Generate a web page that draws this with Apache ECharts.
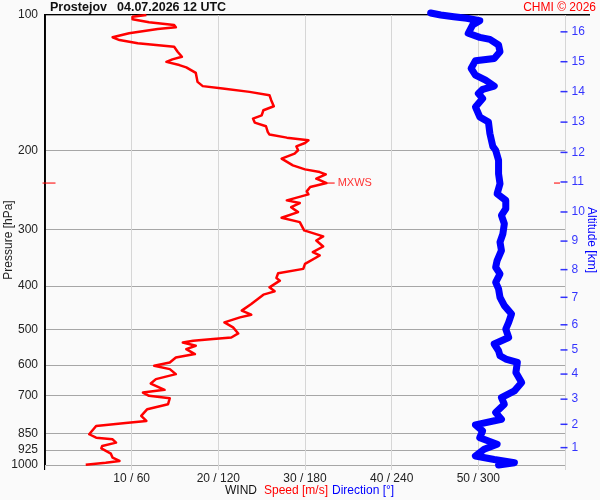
<!DOCTYPE html>
<html>
<head>
<meta charset="utf-8">
<script src="https://cdn.jsdelivr.net/npm/echarts@6/dist/echarts.min.js"></script>
<style>
    html, body { margin: 0; padding: 0; background: #fafafa; }
    #container { width: 600px; height: 500px; }
</style>
</head>
<body>
<div id="container"></div>
<script>
// tick labels
var pressureTicks = [100, 200, 300, 400, 500, 600, 700, 850, 925, 1000];
var speedTicks = [10, 20, 30, 40, 50];
var altKm = [1, 2, 3, 4, 5, 6, 7, 8, 9, 10, 11, 12, 13, 14, 15, 16];
var altPres = [915, 812, 714, 628, 555, 488, 424, 368, 318, 274, 235, 202, 173, 148, 127, 109];

// wind speed [m/s] by pressure [hPa]
var speedPres = [100, 100.9, 102.2, 103.8, 105.3, 106.5, 107.4, 109.8, 112.1, 113.7,
    115.6, 116.6, 117.6, 120.7, 123.8, 125.5, 127.1, 129.2, 130.7, 134.5,
    140.8, 143.9, 145.6, 148.2, 150.7, 154.6, 159.5, 162.8, 167.1, 169.9,
    173.4, 176.7, 181.9, 184.4, 187.3, 189.9, 192.5, 195.8, 199.8, 203.2,
    208.5, 215.8, 220.3, 223.4, 226, 231, 236.3, 241.2, 246.6, 250.4,
    258.2, 261.8, 267.3, 274.2, 282.2, 288.6, 301.1, 310.5, 317, 326.9,
    336.6, 342.3, 357.3, 366.6, 374.9, 383.9, 389.3, 402.9, 411.2, 418.3,
    438.7, 453.9, 463.4, 469.9, 482.1, 494.6, 510.1, 520.7, 524.8, 529.5,
    534.1, 543.3, 552.6, 566.9, 576.8, 591.8, 601.9, 612.2, 628.1, 644.4,
    659.1, 680.8, 690.2, 702, 710.3, 732.5, 751.5, 777.8, 798, 806.3,
    818.8, 854.4, 869.5, 876.7, 891.9, 907.2, 918.1, 943.7, 963.2, 979.7,
    988.3, 998.5];
var speedVals = [11.7, 10.1, 10.1, 12.0, 14.9, 15.1, 13.0, 9.7, 7.8, 8.6,
    10.7, 12.8, 14.9, 15.3, 15.8, 14.7, 14.0, 15.5, 16.3, 17.4,
    17.6, 18.2, 20.5, 23.6, 25.9, 26.1, 26.4, 25.2, 25.0, 24.0,
    24.2, 25.5, 25.7, 25.9, 27.9, 30.4, 30.0, 29.0, 29.2, 28.8,
    27.3, 28.6, 30.0, 31.7, 32.4, 31.3, 32.5, 30.6, 30.2, 30.4,
    27.9, 29.4, 28.4, 29.2, 27.3, 29.4, 29.9, 32.1, 31.3, 32.1,
    30.9, 31.7, 30.0, 29.8, 26.9, 26.7, 27.1, 25.9, 26.5, 25.2,
    23.8, 22.7, 23.8, 22.5, 20.7, 21.7, 22.3, 21.5, 19.4, 17.1,
    15.9, 17.4, 16.3, 17.3, 15.1, 14.4, 12.6, 14.4, 15.1, 12.8,
    12.2, 13.8, 11.3, 12.0, 14.4, 14.2, 11.8, 11.1, 11.7, 9.3,
    5.9, 5.1, 5.9, 7.8, 8.2, 6.6, 6.5, 7.6, 7.8, 8.6,
    7.0, 4.7];

// wind direction [deg] by pressure [hPa]
var dirPres = [99, 100, 100.9, 101.7, 103, 105.3, 109.8, 112.1, 113.3, 116.6,
    120.7, 124.9, 126.4, 131.4, 136, 139.6, 143.9, 146.3, 149.4, 153.3,
    160.1, 168.5, 172.9, 183.4, 195.8, 199.8, 210.3, 225.2, 237.1, 249.5,
    258.2, 269.5, 278.9, 291, 306.3, 319.8, 333.7, 351.3, 363.6, 376.1,
    392.7, 406.2, 424.1, 442.5, 461.7, 482.1, 498.7, 520.7, 538.5, 557.3,
    571.7, 581.6, 591.8, 622.9, 655.8, 684.3, 708.2, 732.5, 764.6, 791.2,
    814.6, 840.1, 869.5, 899.2, 922.6, 954.9, 972.1, 988.3, 1000];
var dirVals = [267, 274, 283, 292, 301, 296, 293, 301, 308, 314,
    315, 311, 298, 295, 298, 305, 311, 303, 300, 303,
    298, 301, 307, 308, 310, 312, 314, 314, 315, 313,
    319, 319, 316, 318, 317, 315, 316, 313, 312, 315,
    312, 314, 315, 318, 323, 321, 319, 321, 311, 314,
    315, 319, 327, 326, 330, 325, 316, 318, 312, 316,
    298, 303, 301, 313, 304, 298, 311, 325, 314];

var WindModule = (function (echarts) {
    var chart;
    var FONT = '"Liberation Sans", Arial, sans-serif';
    var RED = '#ff0000';
    var BLUE = '#0000ff';

    function pairs(xs, ys) {
        return ys.map(function (y, i) {
            return [xs[i], y];
        });
    }

    return {
        init: function () {
            chart = echarts.init(document.getElementById('container'));
            chart.setOption(this.buildOption());
        },
        buildOption: function () {
            // level of max wind
            var mx = 0;
            speedVals.forEach(function (v, i) {
                if (v > speedVals[mx]) mx = i;
            });
            var mxS = speedVals[mx], mxP = speedPres[mx];

            return {
                animation: false,
                backgroundColor: '#fafafa',
                textStyle: { fontFamily: FONT },
                grid: { left: 45, right: 35, top: 15, bottom: 35, containLabel: false, outerBoundsMode: 'none' },
                xAxis: [{
                    type: 'value',
                    min: 0,
                    max: 60,
                    interval: 10,
                    axisLine: { show: false },
                    axisTick: { show: true, length: 5, lineStyle: { color: '#d6d6d6' } },
                    axisLabel: {
                        color: '#222',
                        fontSize: 12,
                        margin: 8,
                        formatter: function (v) {
                            return speedTicks.indexOf(v) >= 0 ? v + ' / ' + v * 6 : '';
                        }
                    },
                    splitLine: { show: true, lineStyle: { color: '#d6d6d6', width: 1 } }
                }, {
                    // direction shares the width: 0..360 deg
                    type: 'value',
                    min: 0,
                    max: 360,
                    show: false
                }],
                yAxis: [{
                    type: 'log',
                    logBase: 10,
                    min: 100,
                    max: 1000,
                    inverse: true,
                    position: 'left',
                    axisLine: { show: true, onZero: false, lineStyle: { color: '#000', width: 1.5 } },
                    axisTick: { show: false, customValues: pressureTicks },
                    axisLabel: {
                        customValues: pressureTicks,
                        color: '#222',
                        fontSize: 12,
                        margin: 7,
                        formatter: function (v) { return String(Math.round(v)); }
                    },
                    splitLine: { show: true, lineStyle: { color: '#a6a6a6', width: 1 } },
                    name: 'Pressure [hPa]',
                    nameLocation: 'middle',
                    nameGap: 30,
                    nameMoveOverlap: false,
                    nameTextStyle: { color: '#222', fontSize: 12 }
                }, {
                    type: 'log',
                    logBase: 10,
                    min: 100,
                    max: 1000,
                    inverse: true,
                    position: 'right',
                    axisLine: { show: false },
                    axisTick: { show: false },
                    axisLabel: { show: false },
                    splitLine: { show: false },
                    name: 'Altitude [km]',
                    nameLocation: 'middle',
                    nameRotate: -90,
                    nameGap: 20,
                    nameMoveOverlap: false,
                    nameTextStyle: { color: BLUE, fontSize: 12 }
                }],
                graphic: {
                    z: 100,
                    elements: [
                        // frame: top and left edge
                        { type: 'rect', shape: { x: 44, y: 14, width: 546, height: 1.6 }, style: { fill: '#000' } },
                        { type: 'polyline', shape: { points: [[45, 15], [45, 470]] }, style: { stroke: '#000', lineWidth: 2 } },
                        { type: 'text', x: 50, y: 1, style: { text: 'Prostejov', font: 'bold 12.5px ' + FONT, fill: '#111' } },
                        { type: 'text', x: 117, y: 1, style: { text: '04.07.2026 12 UTC', font: 'bold 12.5px ' + FONT, fill: '#111' } },
                        { type: 'text', right: 4, y: 2, style: { text: 'CHMI \u00a9 2026', font: '12px ' + FONT, fill: RED } },
                        { type: 'text', x: 225, y: 485, style: { text: 'WIND', font: '12px ' + FONT, fill: '#111' } },
                        { type: 'text', x: 264, y: 485, style: { text: 'Speed [m/s]', font: '12px ' + FONT, fill: RED } },
                        { type: 'text', x: 332, y: 485, style: { text: 'Direction [\u00b0]', font: '12px ' + FONT, fill: BLUE } }
                    ]
                },
                series: [{
                    name: 'Direction',
                    type: 'line',
                    xAxisIndex: 1,
                    yAxisIndex: 0,
                    data: pairs(dirVals, dirPres),
                    symbol: 'none',
                    clip: false,
                    lineStyle: { color: BLUE, width: 7, cap: 'round', join: 'round' },
                    z: 3
                }, {
                    name: 'Speed',
                    type: 'line',
                    data: pairs(speedVals, speedPres),
                    symbol: 'none',
                    lineStyle: { color: RED, width: 2.5, join: 'round' },
                    // left frame edge at 0 m/s
                    markLine: {
                        silent: true,
                        symbol: 'none',
                        label: { show: false },
                        lineStyle: { color: '#000', width: 1.5, type: 'solid' },
                        data: [{ xAxis: 0 }]
                    },
                    z: 4
                }, {
                    // altitude scale on the right edge
                    type: 'scatter',
                    data: altPres.map(function (p) { return [60, p]; }),
                    symbol: 'rect',
                    symbolSize: [7, 1.5],
                    symbolOffset: [-1, 0],
                    clip: false,
                    itemStyle: { color: BLUE },
                    label: {
                        show: true,
                        position: 'right',
                        distance: 4,
                        color: BLUE,
                        fontSize: 12,
                        formatter: function (p) { return altKm[p.dataIndex]; }
                    },
                    z: 5
                }, {
                    // MXWS mark
                    type: 'scatter',
                    data: [[mxS, mxP]],
                    symbol: 'rect',
                    symbolSize: [7, 1.3],
                    symbolOffset: [4.5, 0],
                    clip: false,
                    itemStyle: { color: RED },
                    label: { show: true, position: 'right', distance: 3, color: RED, fontSize: 11, formatter: 'MXWS' },
                    z: 5
                }, {
                    type: 'scatter',
                    data: [
                        { value: [0, mxP], symbolSize: [13, 1.3], symbolOffset: [4, 0] },
                        { value: [60, mxP], symbolSize: [6, 1.3], symbolOffset: [-8, 0] }
                    ],
                    symbol: 'rect',
                    clip: false,
                    itemStyle: { color: RED },
                    z: 11
                }]
            };
        }
    };
})(echarts);

WindModule.init();
</script>
</body>
</html>
